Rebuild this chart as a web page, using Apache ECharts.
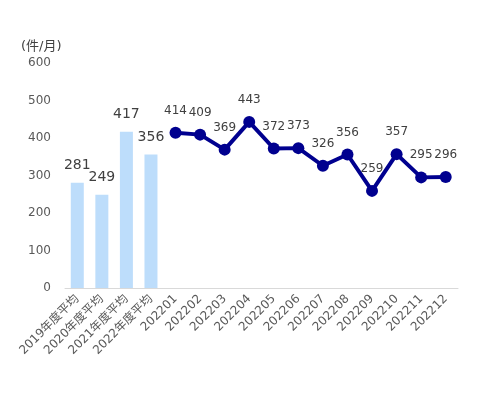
<!DOCTYPE html>
<html><head><meta charset="utf-8">
<script src="https://cdn.jsdelivr.net/npm/echarts@6/dist/echarts.min.js"></script>
<style>html,body{margin:0;padding:0;background:#fff}#c{width:480px;height:395px}</style>
</head><body><div id="c"></div>
<script>
const categories = ['2019年度平均','2020年度平均','2021年度平均','2022年度平均','202201','202202','202203','202204','202205','202206','202207','202208','202209','202210','202211','202212'];
const barValues = [281, 249, 417, 356];
const lineValues = [414, 409, 369, 443, 372, 373, 326, 356, 259, 357, 295, 296];
const yTicks = [0, 100, 200, 300, 400, 500, 600];
const unitLabel = '(件/月)';

const FONT = "'DejaVu Sans', 'Noto Sans CJK JP', sans-serif";
const barData = categories.map((c, i) => i < barValues.length ? barValues[i] : '-');
const lineData = categories.map((c, i) => i >= barValues.length ? lineValues[i - barValues.length] : '-');

const chart = echarts.init(document.getElementById('c'));
chart.setOption({
  animation: false,
  textStyle: { fontFamily: FONT },
  title: { text: unitLabel, left: 16, top: 35, textStyle: { fontSize: 13, fontWeight: 'normal', color: '#404040', fontFamily: FONT } },
  grid: { left: 65, right: 22, top: 63, bottom: 107 },
  xAxis: {
    type: 'category', data: categories,
    axisLine: { lineStyle: { color: '#d9d9d9' } },
    axisTick: { show: false },
    axisLabel: { rotate: 45, color: '#595959', fontSize: 12, interval: 0, margin: 9, fontFamily: FONT }
  },
  yAxis: {
    type: 'value', min: yTicks[0], max: yTicks[yTicks.length - 1], interval: 100,
    axisLine: { show: false }, axisTick: { show: false },
    splitLine: { show: false },
    axisLabel: { color: '#595959', fontSize: 12, margin: 14, fontFamily: FONT }
  },
  series: [
    {
      type: 'bar', data: barData, barWidth: 13,
      itemStyle: { color: '#BDDDFB' },
      label: { show: true, position: 'top', distance: 10, fontSize: 14, color: '#404040', fontFamily: FONT }
    },
    {
      type: 'line', data: lineData, connectNulls: false,
      lineStyle: { color: '#00008F', width: 4 },
      itemStyle: { color: '#00008F' },
      symbol: 'circle', symbolSize: 12,
      label: { show: true, position: 'top', distance: 10, fontSize: 12, color: '#404040', fontFamily: FONT }
    }
  ]
});
</script></body></html>
